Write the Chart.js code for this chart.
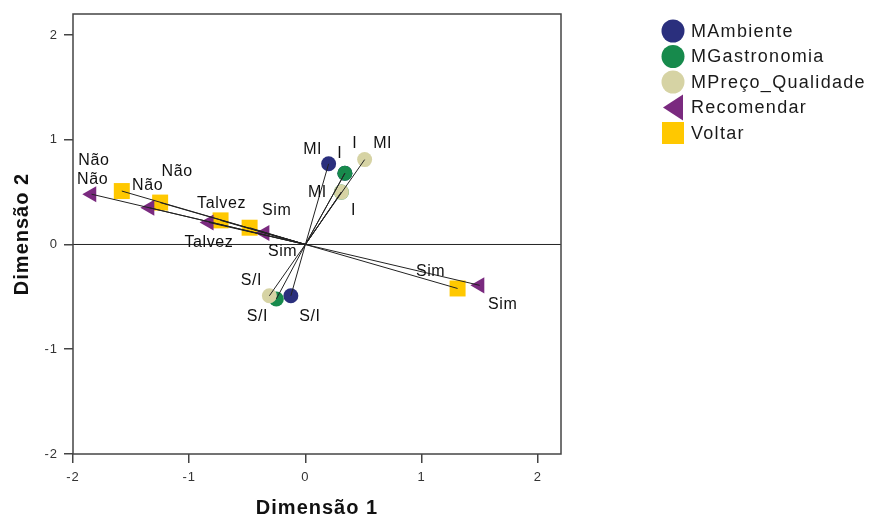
<!DOCTYPE html>
<html>
<head>
<meta charset="utf-8">
<script src="https://cdn.jsdelivr.net/npm/chart.js@4.4.1/dist/chart.umd.min.js"></script>
<style>
  html, body { margin: 0; padding: 0; background: #fff; }
  #wrap { width: 874px; height: 521px; }
</style>
</head>
<body>
<div id="wrap"><canvas id="mca"></canvas></div>
<script>
// category quantifications (dimension 1, dimension 2)
const ambLabels = ['MI', 'I', 'S/I'];
const ambX = [0.20, 0.34, -0.125];
const ambY = [0.77, 0.68, -0.49];

const gasLabels = ['MI', 'I', 'S/I'];
const gasX = [0.31, 0.34, -0.25];
const gasY = [0.50, 0.68, -0.52];

const preLabels = ['MI', 'I', 'S/I'];
const preX = [0.51, 0.31, -0.31];
const preY = [0.81, 0.50, -0.49];

const recLabels = ['Não', 'Não', 'Talvez', 'Sim', 'Sim'];
const recX = [-1.84, -1.34, -0.83, -0.35, 1.50];
const recY = [0.48, 0.35, 0.21, 0.11, -0.39];

const volLabels = ['Não', 'Não', 'Talvez', 'Sim', 'Sim'];
const volX = [-1.58, -1.25, -0.73, -0.48, 1.31];
const volY = [0.51, 0.40, 0.23, 0.16, -0.42];

const axisTicks = [-2, -1, 0, 1, 2];

// where each category label sits relative to its point (px)
const ambOffsets = [[-16, -14], [10, -30], [19, 21]];
const gasOffsets = [[-24, 0], [-5, -20], [-19, 18]];
const preOffsets = [[18, -16], [12, 18], [-18, -15]];
const recOffsets = [[1, -15], [-2, -22], [0, 20], [12, -22], [23, 19]];
const volOffsets = [[-28, -30], [17, -31], [1, -17], [33, 24], [-27, -17]];

// painting weight: higher is painted earlier (squares at the back, triangles in front)
const paintOrder = [4, 3, 2, 1, 5];

const FONT = 'Arial, "Liberation Sans", sans-serif';

function pts(xs, ys) {
  return xs.map((x, i) => ({ x: x, y: ys[i] }));
}

function series(name, xs, ys, labels, offsets, color, style, radius, rotation) {
  return {
    label: name,
    data: pts(xs, ys),
    catLabels: labels,
    labelOffsets: offsets,
    backgroundColor: color,
    borderColor: color,
    borderWidth: 0,
    pointStyle: style,
    pointRadius: radius,
    pointHoverRadius: radius,
    rotation: rotation || 0
  };
}

const datasets = [
  series('MAmbiente', ambX, ambY, ambLabels, ambOffsets, '#2a2f7d', 'circle', 7.5),
  series('MGastronomia', gasX, gasY, gasLabels, gasOffsets, '#178a4c', 'circle', 7.5),
  series('MPreço_Qualidade', preX, preY, preLabels, preOffsets, '#d6d3a4', 'circle', 7.5),
  series('Recomendar', recX, recY, recLabels, recOffsets, '#7a2a7f', 'triangle', 9.3, -90),
  series('Voltar', volX, volY, volLabels, volOffsets, '#ffc800', 'rect', 11.3)
];
datasets.forEach((ds, i) => { ds.order = paintOrder[i]; });

// zero reference line, vectors from the origin over the markers, frame
const vectors = {
  id: 'vectors',
  beforeDraw(chart) {
    chart.ctx.letterSpacing = '1px';
  },
  afterDatasetsDraw(chart) {
    const { ctx, chartArea: a, scales: { x, y } } = chart;
    const ox = x.getPixelForValue(0), oy = y.getPixelForValue(0);
    ctx.save();
    ctx.strokeStyle = '#222';
    ctx.lineWidth = 1;
    ctx.beginPath();
    ctx.moveTo(a.left, oy);
    ctx.lineTo(a.right, oy);
    chart.data.datasets.forEach(ds => {
      ds.data.forEach(p => {
        ctx.moveTo(ox, oy);
        ctx.lineTo(x.getPixelForValue(p.x), y.getPixelForValue(p.y));
      });
    });
    ctx.stroke();
    ctx.strokeStyle = '#444';
    ctx.lineWidth = 1.5;
    ctx.strokeRect(a.left, a.top, a.right - a.left, a.bottom - a.top);
    ctx.restore();
  }
};

// category names next to the points
const catNames = {
  id: 'catNames',
  afterDatasetsDraw(chart) {
    const { ctx, scales: { x, y } } = chart;
    ctx.save();
    ctx.font = '16px ' + FONT;
    ctx.letterSpacing = '0.6px';
    ctx.fillStyle = '#111';
    ctx.textAlign = 'center';
    ctx.textBaseline = 'middle';
    chart.data.datasets.forEach(ds => {
      ds.data.forEach((p, i) => {
        const off = ds.labelOffsets[i];
        ctx.fillText(ds.catLabels[i], x.getPixelForValue(p.x) + off[0], y.getPixelForValue(p.y) + off[1]);
      });
    });
    ctx.restore();
  }
};

// legend in the top right corner
const sideLegend = {
  id: 'sideLegend',
  afterDraw(chart) {
    const { ctx } = chart;
    const mx = 673, tx = 691, top = 31, step = 25.5;
    ctx.save();
    ctx.font = '18px ' + FONT;
    ctx.letterSpacing = '1.3px';
    ctx.textAlign = 'left';
    ctx.textBaseline = 'middle';
    chart.data.datasets.forEach((ds, i) => {
      const cy = top + i * step;
      ctx.fillStyle = ds.backgroundColor;
      ctx.beginPath();
      if (ds.pointStyle === 'circle') {
        ctx.arc(mx, cy, 11.5, 0, Math.PI * 2);
      } else if (ds.pointStyle === 'triangle') {
        ctx.moveTo(mx - 10, cy);
        ctx.lineTo(mx + 10, cy - 13);
        ctx.lineTo(mx + 10, cy + 13);
        ctx.closePath();
      } else {
        ctx.rect(mx - 11, cy - 11, 22, 22);
      }
      ctx.fill();
      ctx.fillStyle = '#1a1a1a';
      ctx.fillText(ds.label, tx, cy + 1);
    });
    ctx.restore();
  }
};

const tickGrid = {
  display: true,
  drawOnChartArea: false,
  drawTicks: true,
  tickLength: 9,
  color: '#444',
  lineWidth: 1.5
};

new Chart(document.getElementById('mca'), {
  type: 'scatter',
  data: { datasets: datasets },
  options: {
    responsive: true,
    maintainAspectRatio: false,
    animation: false,
    layout: { padding: { top: 14, right: 313, left: 0, bottom: 0 } },
    plugins: {
      legend: { display: false },
      tooltip: { enabled: false }
    },
    scales: {
      x: {
        type: 'linear',
        min: -2,
        max: 2.2,
        afterFit: s => { s.height = 67; },
        afterBuildTicks: s => { s.ticks = axisTicks.map(v => ({ value: v })); },
        grid: tickGrid,
        border: { display: false },
        ticks: { color: '#333', padding: 7, font: { family: FONT, size: 13 } },
        title: {
          display: true,
          text: 'Dimensão 1',
          color: '#111',
          font: { family: FONT, size: 20, weight: 'bold' },
          padding: { top: 0, bottom: 1 }
        }
      },
      y: {
        type: 'linear',
        min: -2,
        max: 2.2,
        afterFit: s => { s.width = 73; },
        afterBuildTicks: s => { s.ticks = axisTicks.map(v => ({ value: v })); },
        grid: tickGrid,
        border: { display: false },
        ticks: { color: '#333', padding: 6, font: { family: FONT, size: 13 } },
        title: {
          display: true,
          text: 'Dimensão 2',
          color: '#111',
          font: { family: FONT, size: 20, weight: 'bold' },
          padding: { top: 10, bottom: 0 }
        }
      }
    }
  },
  plugins: [vectors, catNames, sideLegend]
});
</script>
</body>
</html>
